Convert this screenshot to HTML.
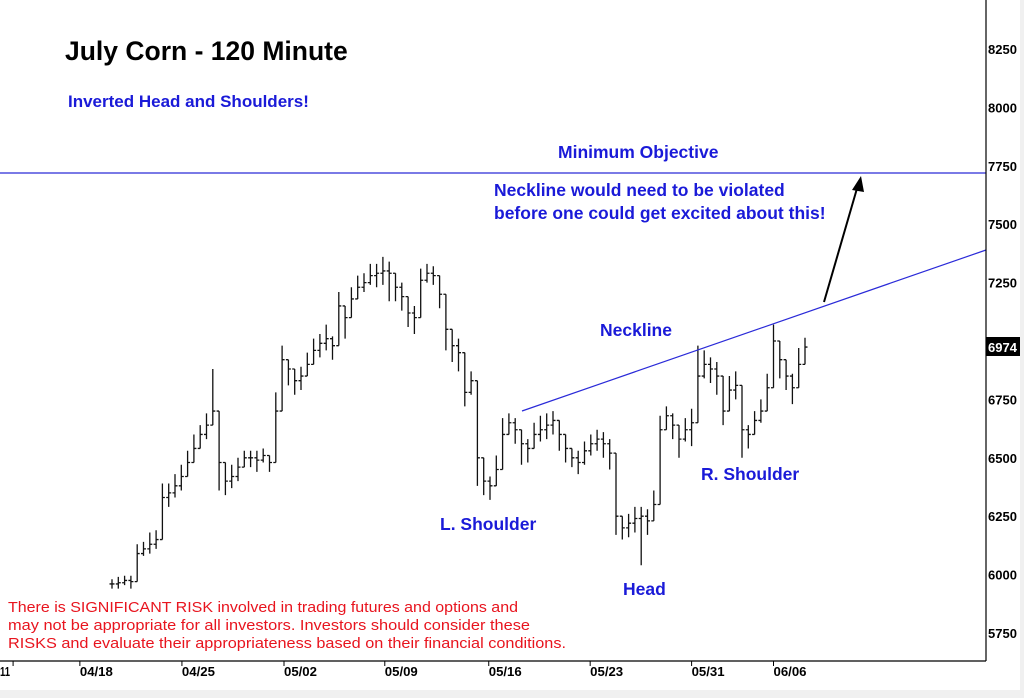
<!DOCTYPE html>
<html><head><meta charset="utf-8"><style>
html,body{margin:0;padding:0;background:#f0f0f0;}
svg{display:block;font-family:"Liberation Sans",sans-serif;}
</style></head><body>
<svg id="chart" width="1024" height="698" viewBox="0 0 1024 698">
<rect x="0" y="0" width="1020" height="690" fill="#fff"/>
<g id="bars"></g>
<line x1="0" y1="173" x2="986" y2="173" stroke="#2a2ad8" stroke-width="1.2"/>
<line x1="522" y1="411" x2="986" y2="250" stroke="#2a2ad8" stroke-width="1.2"/>
<line x1="824" y1="302" x2="858" y2="185" stroke="#000" stroke-width="2"/>
<polygon points="861,176 852,190 864,192" fill="#000"/>
<line x1="986" y1="0" x2="986" y2="661" stroke="#000" stroke-width="1.2"/>
<line x1="0" y1="661" x2="986" y2="661" stroke="#000" stroke-width="1.2"/>
<g id="yticks"></g>
<g id="xticks"></g>
<rect x="986" y="337" width="34" height="19" fill="#000"/>
<text x="988" y="352" font-size="13" font-weight="bold" fill="#fff">6974</text>
<text x="65" y="60" font-size="26.5" font-weight="bold" fill="#000">July Corn - 120 Minute</text>
<text x="68" y="107" font-size="17" font-weight="bold" fill="#1a1ad8">Inverted Head and Shoulders!</text>
<text x="558" y="158" font-size="17.5" font-weight="bold" fill="#1a1ad8">Minimum Objective</text>
<text x="494" y="196" font-size="17.5" font-weight="bold" fill="#1a1ad8">Neckline would need to be violated</text>
<text x="494" y="219" font-size="17.5" font-weight="bold" fill="#1a1ad8">before one could get excited about this!</text>
<text x="600" y="336" font-size="17.5" font-weight="bold" fill="#1a1ad8">Neckline</text>
<text x="440" y="530" font-size="17.5" font-weight="bold" fill="#1a1ad8">L. Shoulder</text>
<text x="623" y="595" font-size="17.5" font-weight="bold" fill="#1a1ad8">Head</text>
<text x="701" y="480" font-size="17.5" font-weight="bold" fill="#1a1ad8">R. Shoulder</text>
<g fill="#e8141e" font-size="15">
<text x="8" y="612" textLength="510" lengthAdjust="spacingAndGlyphs">There is SIGNIFICANT RISK involved in trading futures and options and</text>
<text x="8" y="630" textLength="522" lengthAdjust="spacingAndGlyphs">may not be appropriate for all investors.  Investors should consider these</text>
<text x="8" y="648" textLength="558" lengthAdjust="spacingAndGlyphs">RISKS and evaluate their appropriateness based on their financial conditions.</text>
</g>
</svg>
<script>
const yTicks=[5750,6000,6250,6500,6750,7250,7500,7750,8000,8250];
const xLabels=["11","04/18","04/25","05/02","05/09","05/16","05/23","05/31","06/06"];
const xLabelBar=[-15.7,-5.1,11.1,27.3,43.3,59.8,75.9,92,105];
const closes=[5960,5965,5975,5970,6090,6110,6130,6150,6330,6350,6380,6420,6480,6540,6600,6640,6700,6480,6400,6420,6460,6500,6500,6490,6510,6480,6700,6920,6880,6830,6850,6900,6960,6990,7010,6980,7150,7100,7180,7230,7250,7280,7290,7300,7290,7230,7190,7120,7100,7260,7290,7280,7200,7050,6980,6950,6780,6830,6500,6400,6380,6450,6600,6650,6620,6560,6540,6600,6620,6640,6660,6600,6540,6500,6480,6530,6560,6580,6560,6520,6250,6200,6220,6240,6250,6230,6300,6620,6680,6640,6580,6620,6650,6850,6900,6880,6850,6700,6790,6810,6620,6600,6660,6700,6800,7000,6920,6850,6800,6900,6974];
const ups=[20,25,20,25,40,30,50,40,60,40,50,50,50,60,40,50,180,60,30,50,40,30,30,40,30,30,80,60,40,50,40,50,50,40,60,40,60,50,50,50,40,50,40,60,50,40,60,40,50,50,40,40,80,40,40,60,50,40,60,40,40,60,70,40,50,50,40,50,60,50,40,50,40,40,50,40,40,40,50,60,60,50,40,50,40,50,60,60,40,50,40,50,60,130,60,50,60,60,60,60,40,40,40,50,60,70,50,60,60,70,40];
const dns=[20,25,20,30,40,30,40,40,50,60,50,60,50,50,60,60,60,120,60,50,60,40,40,50,30,40,60,50,70,60,60,50,50,60,50,60,80,90,50,50,40,40,60,60,120,60,60,60,70,50,40,40,60,90,70,80,60,60,120,60,60,70,80,50,60,90,60,50,50,60,60,70,60,40,50,60,50,50,60,70,80,50,60,60,210,60,60,90,60,60,80,50,100,60,60,60,80,60,60,60,120,60,60,50,60,70,80,60,70,60,60];
const NS="http://www.w3.org/2000/svg";
function yS(v){return 633-(v-5750)*0.2336;}
function xS(i){return 112+i*6.3;}
const bars=document.getElementById('bars');
closes.forEach((c,i)=>{
  const x=xS(i), o=i>0?closes[i-1]:c;
  const hi=Math.max(c+ups[i],o), lo=Math.min(c-dns[i],o);
  const p=document.createElementNS(NS,'path');
  p.setAttribute('d',`M${x} ${yS(hi)}V${yS(lo)}M${x-2.5} ${yS(o)}H${x}M${x} ${yS(c)}H${x+2.5}`);
  p.setAttribute('stroke','#111');p.setAttribute('stroke-width','1.3');p.setAttribute('fill','none');
  
  
  bars.appendChild(p);
});
const yg=document.getElementById('yticks');
yTicks.forEach(v=>{
  const t=document.createElementNS(NS,'text');
  t.setAttribute('x',988);t.setAttribute('y',yS(v)+5);t.setAttribute('font-size','13');t.setAttribute('font-weight','bold');
  t.textContent=v;
  
  
  yg.appendChild(t);
});
const xg=document.getElementById('xticks');
xLabels.forEach((l,k)=>{
  const x=xS(xLabelBar[k]);
  const tk=document.createElementNS(NS,'line');
  tk.setAttribute('x1',x);tk.setAttribute('x2',x);tk.setAttribute('y1',661);tk.setAttribute('y2',666);tk.setAttribute('stroke','#000');
  
  
  xg.appendChild(tk);
  const t=document.createElementNS(NS,'text');
  t.setAttribute('x',k===0?0:x);t.setAttribute('y',676);t.setAttribute('font-size','13');t.setAttribute('font-weight','bold');
  t.setAttribute('textLength',k===0?10:33);t.setAttribute('lengthAdjust','spacingAndGlyphs');
  t.textContent=l;
  
  
  xg.appendChild(t);
});
</script>
</body></html>
